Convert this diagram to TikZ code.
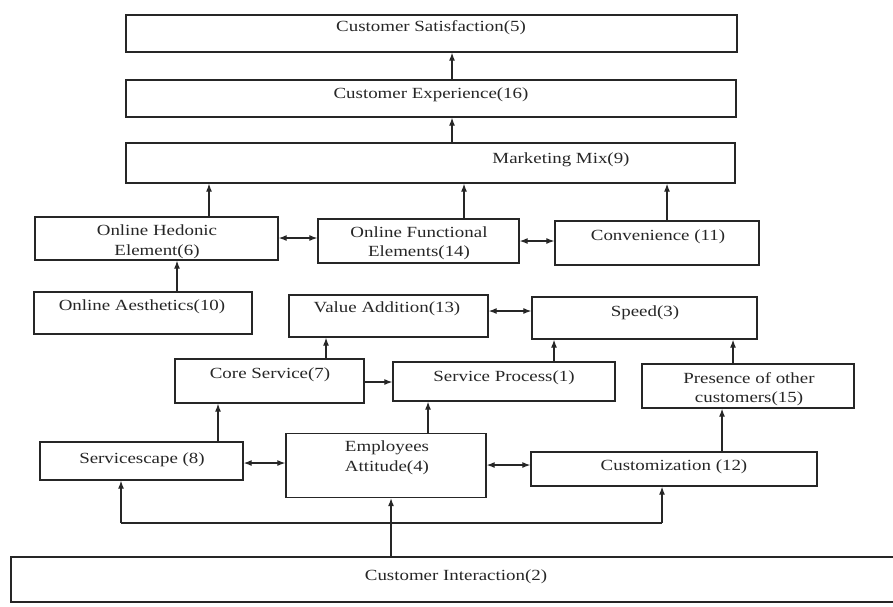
\documentclass[tikz,border=0pt]{standalone}
\usepackage{fontspec}
\setmainfont{Liberation Serif}[FakeStretch=1.22]
\usetikzlibrary{arrows.meta}

\tikzset{
  box/.style={draw=black!85, line width=1.3pt, inner sep=0pt, rectangle},
  txt/.style={inner sep=0pt, align=center, text=black!85,
              font=\fontsize{15.5}{19.5}\selectfont},
  tip/.tip={Latex[length=8pt,width=6pt]},
  arr/.style={draw=black!85, line width=1.2pt, -tip},
  dbl/.style={draw=black!85, line width=1.2pt, tip-tip},
  ln/.style={draw=black!85, line width=1.2pt}
}

\begin{document}
\begin{tikzpicture}[x=1pt, y=-1pt]
\useasboundingbox (0,0) rectangle (893,606);

% ---- boxes (centre, width, height) ----
\node[box, minimum width=611pt, minimum height=37pt] (sat)   at (431.5,33.5) {};
\node[box, minimum width=610pt, minimum height=37pt] (exp)   at (431,98.5) {};
\node[box, minimum width=609pt, minimum height=40pt] (mm)    at (430.5,163) {};
\node[box, minimum width=243pt, minimum height=43pt] (hed)   at (156.5,238.5) {};
\node[box, minimum width=201pt, minimum height=44pt] (fun)   at (418.5,241) {};
\node[box, minimum width=204pt, minimum height=44pt] (conv)  at (657,243) {};
\node[box, minimum width=218pt, minimum height=42pt] (aes)   at (143,313) {};
\node[box, minimum width=199pt, minimum height=42pt] (va)    at (388.5,316) {};
\node[box, minimum width=225pt, minimum height=42pt] (spd)   at (644.5,318) {};
\node[box, minimum width=189pt, minimum height=44pt] (core)  at (269.5,381) {};
\node[box, minimum width=222pt, minimum height=39pt] (sp)    at (504,381.5) {};
\node[box, minimum width=212pt, minimum height=44pt] (pres)  at (748,386) {};
\node[box, minimum width=203pt, minimum height=38pt] (scape) at (141.5,461) {};
\node[box, minimum width=200pt, minimum height=64pt] (emp)   at (386,465.5) {};
\node[box, minimum width=286pt, minimum height=34pt] (cust)  at (674,469) {};
\node[box, minimum width=889pt, minimum height=45pt] (inter) at (455.5,579.5) {};

% ---- labels ----
\node[txt] (satT)   at (431,28)    {Customer Satisfaction(5)};
\node[txt] (expT)   at (431,95)    {Customer Experience(16)};
\node[txt] (mmT)    at (561,160)   {Marketing Mix(9)};
\node[txt] (hedT)   at (157,242)   {Online Hedonic\\Element(6)};
\node[txt] (funT)   at (419,243.5) {Online Functional\\Elements(14)};
\node[txt] (convT)  at (658,237)   {Convenience (11)};
\node[txt] (aesT)   at (142,307)   {Online Aesthetics(10)};
\node[txt] (vaT)    at (387,309)   {Value Addition(13)};
\node[txt] (spdT)   at (645,313)   {Speed(3)};
\node[txt] (coreT)  at (270,375)   {Core Service(7)};
\node[txt] (spT)    at (504,378)   {Service Process(1)};
\node[txt] (presT)  at (749,389)   {Presence of other\\customers(15)};
\node[txt] (scapeT) at (142,460)   {Servicescape (8)};
\node[txt] (empT)   at (387,458)   {Employees\\Attitude(4)};
\node[txt] (custT)  at (674,467)   {Customization (12)};
\node[txt] (interT) at (456,577)   {Customer Interaction(2)};

% ---- x positions of the vertical links ----
\coordinate (x452) at (452,0);
\coordinate (x209) at (209,0);
\coordinate (x464) at (464,0);
\coordinate (x667) at (667,0);
\coordinate (x177) at (177,0);
\coordinate (x326) at (326,0);
\coordinate (x554) at (554,0);
\coordinate (x733) at (733,0);
\coordinate (x218) at (218,0);
\coordinate (x428) at (428,0);
\coordinate (x722) at (722,0);
\coordinate (x391) at (391,0);

% ---- upward links ----
\draw[arr] (exp.north -| x452) -- (sat.south -| x452);
\draw[arr] (mm.north -| x452)  -- (exp.south -| x452);
\draw[arr] (hed.north -| x209) -- (mm.south -| x209);
\draw[arr] (fun.north -| x464) -- (mm.south -| x464);
\draw[arr] (conv.north -| x667) -- (mm.south -| x667);
\draw[arr] (aes.north -| x177) -- (hed.south -| x177);
\draw[arr] (core.north -| x326) -- (va.south -| x326);
\draw[arr] (sp.north -| x554)  -- (spd.south -| x554);
\draw[arr] (pres.north -| x733) -- (spd.south -| x733);
\draw[arr] (scape.north -| x218) -- (core.south -| x218);
\draw[arr] (emp.north -| x428) -- (sp.south -| x428);
\draw[arr] (cust.north -| x722) -- (pres.south -| x722);
\draw[arr] (inter.north -| x391) -- (emp.south -| x391);

% ---- branch from Customer Interaction ----
\coordinate (jL) at (121,523);
\coordinate (jR) at (662,523);
\draw[ln] (jL) -- (jR);
\draw[arr] (jL) -- (scape.south -| jL);
\draw[arr] (jR) -- (cust.south -| jR);

% ---- horizontal links ----
\coordinate (y238) at (0,238);
\coordinate (y241) at (0,241);
\coordinate (y311) at (0,311);
\coordinate (y382) at (0,382);
\coordinate (y463) at (0,463);
\coordinate (y465) at (0,465);
\draw[dbl] (hed.east |- y238) -- (fun.west |- y238);
\draw[dbl] (fun.east |- y241) -- (conv.west |- y241);
\draw[dbl] (va.east |- y311)  -- (spd.west |- y311);
\draw[arr] (core.east |- y382) -- (sp.west |- y382);
\draw[dbl] (scape.east |- y463) -- (emp.west |- y463);
\draw[dbl] (emp.east |- y465) -- (cust.west |- y465);
\end{tikzpicture}
\end{document}
